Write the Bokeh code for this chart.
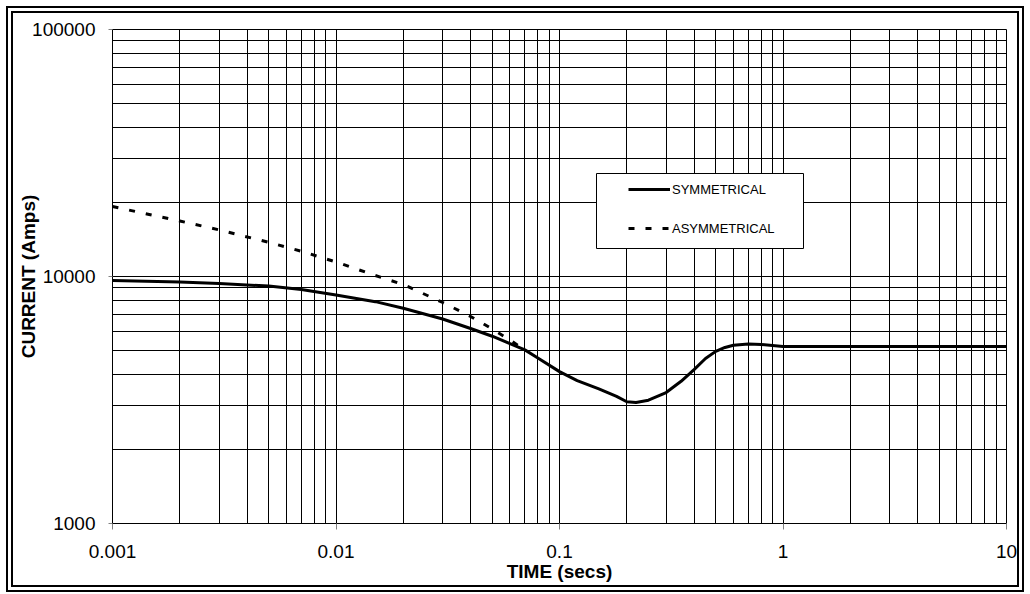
from bokeh.plotting import figure
from bokeh.models import FixedTicker, Legend, LegendItem, BoxAnnotation, Range1d
from bokeh.embed import file_html
from bokeh.resources import INLINE

# ---- data ----
sym_time = [0.001, 0.002, 0.003, 0.005, 0.007, 0.01, 0.015, 0.02, 0.03, 0.04,
            0.05, 0.06, 0.07, 0.08, 0.1, 0.12, 0.15, 0.18, 0.2, 0.22, 0.25,
            0.3, 0.35, 0.4, 0.45, 0.5, 0.55, 0.6, 0.7, 0.8, 1, 2, 5, 10]
sym_current = [9640, 9490, 9370, 9145, 8850, 8420, 7910, 7440, 6730, 6160,
               5730, 5350, 5045, 4680, 4120, 3790, 3505, 3270, 3110, 3090, 3155,
               3390, 3765, 4200, 4655, 4975, 5160, 5270, 5325, 5305, 5210, 5210, 5210, 5210]

asym_time = [0.001, 0.002, 0.003, 0.005, 0.007, 0.01, 0.015, 0.02, 0.03, 0.04,
             0.05, 0.06, 0.07]
asym_current = [19200, 16780, 15440, 13750, 12650, 11450, 10090, 9280, 7850, 6890,
                6130, 5530, 5045]

x_ticks = [0.001, 0.01, 0.1, 1, 10]
x_tick_labels = ["0.001", "0.01", "0.1", "1", "10"]
y_ticks = [1000, 10000, 100000]
y_tick_labels = ["1000", "10000", "100000"]
x_minor = [m * d for d in [0.001, 0.01, 0.1, 1] for m in range(2, 10)]
y_minor = [m * d for d in [1000, 10000] for m in range(2, 10)]

series_names = ["SYMMETRICAL", "ASYMMETRICAL"]
x_title = "TIME (secs)"
y_title = "CURRENT (Amps)"

FONT = "Liberation Sans"

p = figure(width=1004, height=572, x_axis_type="log", y_axis_type="log",
           x_range=Range1d(x_ticks[0], x_ticks[-1]),
           y_range=Range1d(y_ticks[0], y_ticks[-1]),
           output_backend="svg", toolbar_location=None,
           min_border_left=99, min_border_right=25, min_border_top=16,
           min_border_bottom=76)
p.styles = {"border": "7px double black", "box-sizing": "content-box",
            "margin-left": "6px", "margin-top": "6px"}

p.background_fill_color = "white"
p.border_fill_color = "white"
p.outline_line_color = "black"
p.outline_line_width = 1

p.xaxis.ticker = FixedTicker(ticks=x_ticks, minor_ticks=x_minor)
p.yaxis.ticker = FixedTicker(ticks=y_ticks, minor_ticks=y_minor)
p.xaxis.major_label_overrides = {t: l for t, l in zip(x_ticks, x_tick_labels)}
p.yaxis.major_label_overrides = {t: l for t, l in zip(y_ticks, y_tick_labels)}

for ax in (p.xaxis, p.yaxis):
    ax.axis_line_color = "black"
    ax.major_tick_line_color = "#808080"
    ax.major_tick_in = 0
    ax.minor_tick_in = 0
    ax.minor_tick_out = 0
    ax.major_label_text_font = FONT
    ax.major_label_text_font_size = "19px"
    ax.major_label_text_color = "black"
    ax.axis_label_text_font = FONT
    ax.axis_label_text_font_size = "19px"
    ax.axis_label_text_font_style = "bold"
    ax.axis_label_text_color = "black"

p.xaxis.major_tick_out = 6
p.xaxis.major_label_standoff = 15
p.xaxis.axis_label = x_title
p.xaxis.axis_label_standoff = 0
p.yaxis.major_tick_out = 4
p.yaxis.major_label_standoff = 13
p.yaxis.axis_label = y_title
p.yaxis.axis_label_standoff = -10

for g in (p.xgrid, p.ygrid):
    g.grid_line_color = "black"
    g.grid_line_width = 1
    g.minor_grid_line_color = "black"
    g.minor_grid_line_width = 1

r_sym = p.line(sym_time, sym_current, line_color="black", line_width=3)
r_asym = p.line(asym_time, asym_current, line_color="black", line_width=3,
                line_dash="6 11")

# legend frame (layout, in page pixels of the plot frame)
frame_left, frame_top, frame_w, frame_h = 112, 29, 894, 494
box_px = (596, 803, 173, 248)  # left, right, top, bottom (page px)
def px_to_x(px):
    return 10 ** (-3 + 4 * (px - frame_left) / frame_w)
def py_to_y(py):
    return 10 ** (5 - 2 * (py - frame_top) / frame_h)
box = BoxAnnotation(left=px_to_x(box_px[0]), right=px_to_x(box_px[1]),
                    top=py_to_y(box_px[2]), bottom=py_to_y(box_px[3]),
                    fill_color="white", fill_alpha=1.0,
                    line_color="black", line_width=1, line_alpha=1.0)
p.add_layout(box)

legend = Legend(items=[LegendItem(label=series_names[0], renderers=[r_sym]),
                       LegendItem(label=series_names[1], renderers=[r_asym])],
                location=(628 - frame_left, frame_top + frame_h - 238),
                padding=0, margin=0, spacing=19, glyph_width=42, glyph_height=20,
                label_height=20, label_standoff=2,
                label_text_font=FONT, label_text_font_size="13px",
                label_text_color="black",
                border_line_alpha=0, background_fill_alpha=0)
p.add_layout(legend, "center")

open("out.html", "w").write(file_html(p, INLINE))
